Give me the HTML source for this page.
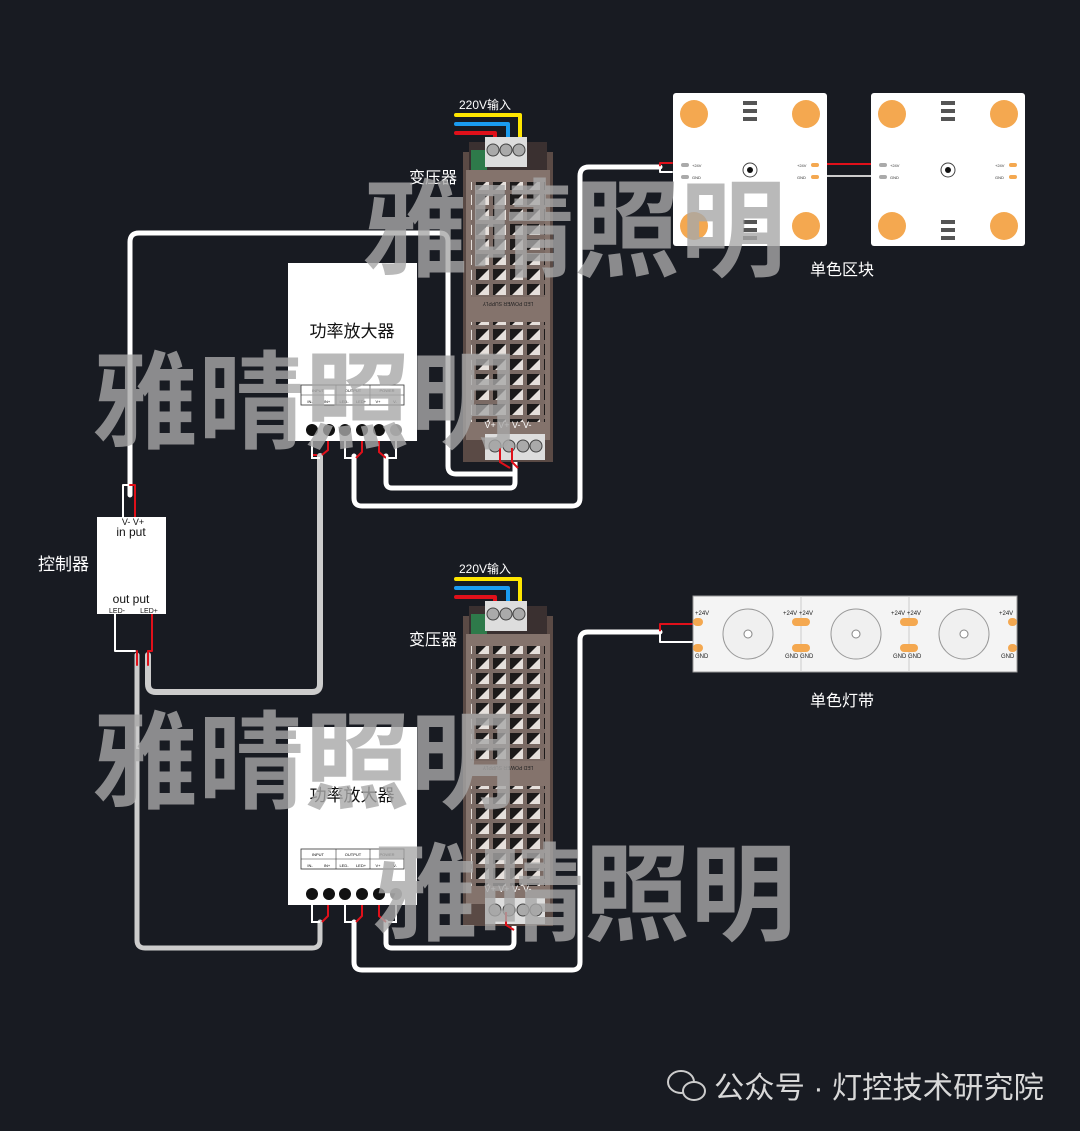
<!DOCTYPE html>
<html><head><meta charset="utf-8"><style>
html,body{margin:0;padding:0;background:#181b22;}
svg{display:block}
text{font-family:"Liberation Sans","Noto Sans CJK SC",sans-serif;}
</style></head><body>
<svg width="1080" height="1131" viewBox="0 0 1080 1131" xmlns="http://www.w3.org/2000/svg">
<defs>
<pattern id="grill" x="470" y="170" width="17" height="15" patternUnits="userSpaceOnUse">
<rect width="17" height="15" fill="#7a6a64"/>
<rect x="2" y="2" width="13" height="11" fill="#1c1a1a"/>
<polygon points="15,2 15,13 4,13" fill="#e6e0dc"/>
</pattern>
<g id="psu">
<rect x="0" y="10" width="90" height="310" fill="#5a4a45"/>
<rect x="6" y="0" width="78" height="30" fill="#3a3030"/>
<rect x="8" y="8" width="16" height="20" fill="#2e7a4a"/>
<rect x="22" y="-5" width="42" height="30" fill="#ddd"/>
<circle cx="30" cy="8" r="6" fill="#aaa" stroke="#444"/>
<circle cx="43" cy="8" r="6" fill="#aaa" stroke="#444"/>
<circle cx="56" cy="8" r="6" fill="#aaa" stroke="#444"/>
<rect x="3" y="28" width="84" height="270" fill="#84736c"/>
<rect x="8" y="40" width="74" height="115" fill="url(#grill)"/>
<rect x="8" y="180" width="74" height="100" fill="url(#grill)"/>
<text x="45" y="170" font-size="5" fill="#222" text-anchor="middle" transform="rotate(180 45 165)">LED POWER SUPPLY</text>
<text x="45" y="286" font-size="9" fill="#fff" text-anchor="middle">V+ V+ V- V-</text>
<rect x="22" y="292" width="60" height="26" fill="#ddd"/>
<circle cx="32" cy="304" r="6" fill="#aaa" stroke="#444"/>
<circle cx="46" cy="304" r="6" fill="#aaa" stroke="#444"/>
<circle cx="60" cy="304" r="6" fill="#aaa" stroke="#444"/>
<circle cx="73" cy="304" r="6" fill="#aaa" stroke="#444"/>
</g>
<g id="amp">
<rect x="0" y="0" width="129" height="178" fill="#fff"/>
<text x="64" y="74" font-size="17" fill="#111" text-anchor="middle">功率放大器</text>
<rect x="13" y="122" width="103" height="20" fill="none" stroke="#333" stroke-width="0.8"/>
<line x1="13" y1="132" x2="116" y2="132" stroke="#333" stroke-width="0.5"/>
<line x1="48" y1="122" x2="48" y2="142" stroke="#333" stroke-width="0.6"/>
<line x1="82" y1="122" x2="82" y2="142" stroke="#333" stroke-width="0.6"/>
<text x="30" y="129" font-size="4" text-anchor="middle">INPUT</text>
<text x="65" y="129" font-size="4" text-anchor="middle">OUTPUT</text>
<text x="99" y="129" font-size="4" text-anchor="middle">POWER</text>
<text x="22" y="140" font-size="4" text-anchor="middle">IN-</text>
<text x="39" y="140" font-size="4" text-anchor="middle">IN+</text>
<text x="56" y="140" font-size="4" text-anchor="middle">LED-</text>
<text x="73" y="140" font-size="4" text-anchor="middle">LED+</text>
<text x="90" y="140" font-size="4" text-anchor="middle">V+</text>
<text x="107" y="140" font-size="4" text-anchor="middle">V-</text>
<circle cx="24" cy="167" r="6" fill="#111"/><circle cx="41" cy="167" r="6" fill="#111"/>
<circle cx="57" cy="167" r="6" fill="#111"/><circle cx="74" cy="167" r="6" fill="#111"/>
<circle cx="91" cy="167" r="6" fill="#111"/><circle cx="108" cy="167" r="6" fill="#999"/>
</g>
<g id="panel">
<rect x="0" y="0" width="154" height="153" rx="3" fill="#fff"/>
<circle cx="21" cy="21" r="14" fill="#f4a850"/><circle cx="133" cy="21" r="14" fill="#f4a850"/>
<circle cx="21" cy="133" r="14" fill="#f4a850"/><circle cx="133" cy="133" r="14" fill="#f4a850"/>
<circle cx="77" cy="77" r="7" fill="#fff" stroke="#444"/><circle cx="77" cy="77" r="3" fill="#111"/>
<rect x="70" y="8" width="14" height="4" fill="#555"/><rect x="70" y="16" width="14" height="4" fill="#555"/><rect x="70" y="24" width="14" height="4" fill="#555"/>
<rect x="70" y="127" width="14" height="4" fill="#555"/><rect x="70" y="135" width="14" height="4" fill="#555"/><rect x="70" y="143" width="14" height="4" fill="#555"/>
<rect x="8" y="70" width="8" height="4" rx="2" fill="#aaa"/><rect x="8" y="82" width="8" height="4" rx="2" fill="#aaa"/>
<rect x="138" y="70" width="8" height="4" rx="2" fill="#f4a850"/><rect x="138" y="82" width="8" height="4" rx="2" fill="#f4a850"/>
<text x="19" y="74" font-size="4" fill="#333">+24V</text><text x="19" y="86" font-size="4" fill="#333">GND</text>
<text x="124" y="74" font-size="4" fill="#333">+24V</text><text x="124" y="86" font-size="4" fill="#333">GND</text>
</g>
</defs>

<g fill="none" stroke-linecap="round" stroke-linejoin="round">
<path d="M130,495 V242 Q130,233 139,233 H440 Q448,233 448,242 V466 Q448,474 456,474 H515 V456" stroke="#fff" stroke-width="5"/>
<path d="M386,456 V482 Q386,488 392,488 H510 Q515,488 515,482 V456" stroke="#fff" stroke-width="5"/>
<path d="M354,456 V498 Q354,506 362,506 H572 Q580,506 580,498 V176 Q580,167 589,167 H660" stroke="#fff" stroke-width="5"/>
<path d="M320,456 V684 Q320,692 312,692 H156 Q148,692 148,684 V655" stroke="#ccc" stroke-width="6"/>
<path d="M137,655 V940 Q137,948 145,948 H312 Q320,948 320,940 V922" stroke="#ccc" stroke-width="5"/>
<path d="M354,922 V962 Q354,970 362,970 H572 Q580,970 580,962 V640 Q580,632 588,632 H660" stroke="#fff" stroke-width="5"/>
<path d="M386,922 V943 Q386,948 392,948 H508 Q514,948 514,942 V922" stroke="#fff" stroke-width="5"/>
<path d="M660,167 V163 H672" stroke="#e0101a" stroke-width="2"/>
<path d="M660,167 V172 H672" stroke="#fff" stroke-width="2"/>
<path d="M660,632 V624 H693" stroke="#e0101a" stroke-width="2"/>
<path d="M660,632 V642 H693" stroke="#fff" stroke-width="2"/>
<line x1="827" y1="164" x2="871" y2="164" stroke="#e0101a" stroke-width="2"/>
<line x1="827" y1="176" x2="871" y2="176" stroke="#ccc" stroke-width="2"/>
<path d="M123,517 V485 H130" stroke="#fff" stroke-width="2"/>
<path d="M135,517 V485 H130" stroke="#e0101a" stroke-width="2"/>
<path d="M115,614 V651 H135" stroke="#fff" stroke-width="2"/>
<path d="M152,614 V651 H148" stroke="#e0101a" stroke-width="2"/>
<path d="M137,651 V665 M148,651 V665" stroke="#e0101a" stroke-width="2"/>
<path d="M456,115 H520 V142" stroke="#ffe600" stroke-width="4"/>
<path d="M456,124 H508 V142" stroke="#1a9cf0" stroke-width="4"/>
<path d="M456,133 H495 V142" stroke="#e0101a" stroke-width="4"/>
<path d="M456,579 H520 V606" stroke="#ffe600" stroke-width="4"/>
<path d="M456,588 H508 V606" stroke="#1a9cf0" stroke-width="4"/>
<path d="M456,597 H495 V606" stroke="#e0101a" stroke-width="4"/>
</g>

<use href="#psu" x="463" y="142"/>
<use href="#psu" x="463" y="606"/>
<use href="#amp" x="288" y="263"/>
<use href="#amp" x="288" y="727"/>

<g fill="none" stroke-width="2">
<path d="M312,441 V455 H317 M328,441 V450 L322,455" stroke="#e0101a"/>
<path d="M312,441 V458 H320" stroke="#fff"/>
<path d="M345,441 V458 H354" stroke="#fff"/>
<path d="M362,441 V452 L356,458" stroke="#e0101a"/>
<path d="M379,441 V452 L386,458" stroke="#e0101a"/>
<path d="M396,441 V458 H386" stroke="#fff"/>
<path d="M500,448 V462 L510,468 M512,448 V462 L518,468" stroke="#e0101a"/>
<path d="M312,905 V922 H320 M345,905 V922 H354 M396,905 V922 H386" stroke="#fff"/>
<path d="M328,905 V916 L322,922 M362,905 V916 L356,922 M379,905 V916 L386,922 M506,912 V925 L514,930" stroke="#e0101a"/>
</g>

<rect x="97" y="517" width="69" height="97" fill="#fff"/>
<text x="133" y="525" font-size="9" text-anchor="middle" fill="#111">V- V+</text>
<text x="131" y="536" font-size="12" text-anchor="middle" fill="#111">in put</text>
<text x="131" y="603" font-size="12" text-anchor="middle" fill="#111">out put</text>
<text x="117" y="613" font-size="7" text-anchor="middle" fill="#111">LED-</text>
<text x="149" y="613" font-size="7" text-anchor="middle" fill="#111">LED+</text>
<text x="38" y="570" font-size="17" fill="#fff">控制器</text>

<use href="#panel" x="673" y="93"/>
<use href="#panel" x="871" y="93"/>

<rect x="693" y="596" width="324" height="76" fill="#f4f4f4" stroke="#999"/>
<line x1="801" y1="596" x2="801" y2="672" stroke="#ccc"/>
<line x1="909" y1="596" x2="909" y2="672" stroke="#ccc"/>
<g fill="#f4a850">
<rect x="693" y="618" width="10" height="8" rx="4"/><rect x="693" y="644" width="10" height="8" rx="4"/>
<rect x="792" y="618" width="18" height="8" rx="4"/><rect x="792" y="644" width="18" height="8" rx="4"/>
<rect x="900" y="618" width="18" height="8" rx="4"/><rect x="900" y="644" width="18" height="8" rx="4"/>
<rect x="1008" y="618" width="9" height="8" rx="4"/><rect x="1008" y="644" width="9" height="8" rx="4"/>
</g>
<g fill="#f0f0f0" stroke="#999">
<circle cx="748" cy="634" r="25"/><circle cx="856" cy="634" r="25"/><circle cx="964" cy="634" r="25"/>
</g>
<g fill="#fff" stroke="#888"><circle cx="748" cy="634" r="4"/><circle cx="856" cy="634" r="4"/><circle cx="964" cy="634" r="4"/></g>
<g font-size="6" fill="#222">
<text x="695" y="615">+24V</text><text x="695" y="658">GND</text>
<text x="783" y="615">+24V +24V</text><text x="785" y="658">GND GND</text>
<text x="891" y="615">+24V +24V</text><text x="893" y="658">GND GND</text>
<text x="999" y="615">+24V</text><text x="1001" y="658">GND</text>
</g>

<g fill="#fff">
<text x="459" y="109" font-size="12">220V输入</text>
<text x="459" y="573" font-size="12">220V输入</text>
<text x="409" y="183" font-size="16">变压器</text>
<text x="409" y="645" font-size="16">变压器</text>
<text x="810" y="275" font-size="16">单色区块</text>
<text x="810" y="706" font-size="16">单色灯带</text>
</g>

<g fill="#a8a8a8" opacity="0.8" font-size="106" font-weight="bold">
<text x="362" y="268">雅晴照明</text>
<text x="92" y="440">雅晴照明</text>
<text x="92" y="800">雅晴照明</text>
<text x="372" y="932">雅晴照明</text>
</g>

<g>
<ellipse cx="681" cy="1082" rx="13" ry="11" fill="none" stroke="#ccc" stroke-width="2"/>
<ellipse cx="694" cy="1091" rx="11" ry="9" fill="#181b22" stroke="#ccc" stroke-width="2"/>
<text x="714" y="1098" font-size="30" fill="#d8d8d8" textLength="330" lengthAdjust="spacingAndGlyphs">公众号 · 灯控技术研究院</text>
</g>
</svg>
</body></html>
